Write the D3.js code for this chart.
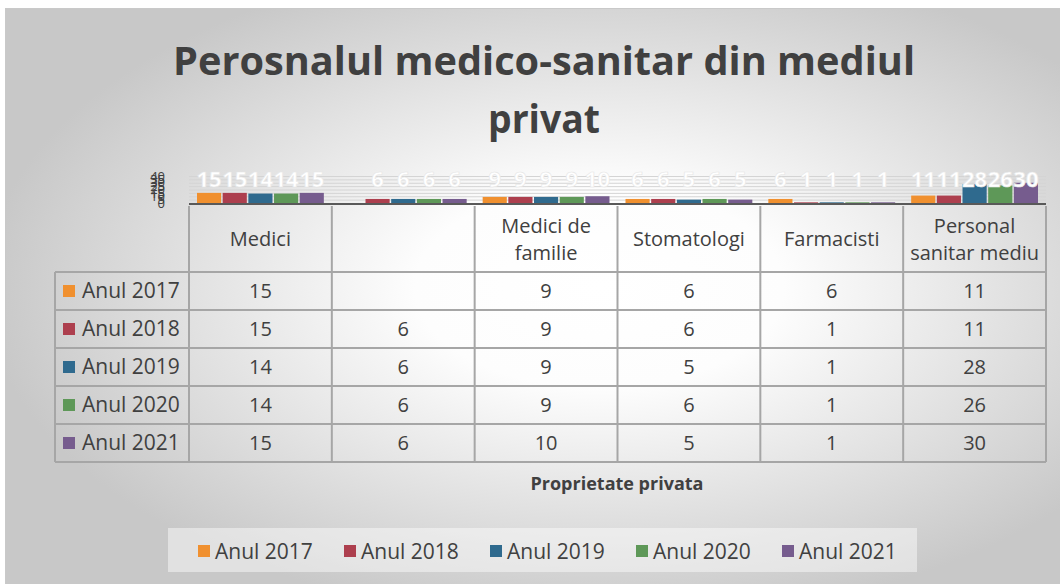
<html>
<head>
<meta charset="utf-8">
<script src="https://cdn.jsdelivr.net/npm/d3@7"></script>
<style>
  body { margin: 0; background: #fff; }
  text { font-family: "Open Sans", sans-serif; }
</style>
</head>
<body>
<svg id="chart" width="1060" height="584"></svg>
<script>
// data
const categories = ["Medici", "", "Medici de\nfamilie", "Stomatologi", "Farmacisti", "Personal\nsanitar mediu"];
const seriesNames = ["Anul 2017", "Anul 2018", "Anul 2019", "Anul 2020", "Anul 2021"];
const anul2017 = [15, null, 9, 6, 6, 11];
const anul2018 = [15, 6, 9, 6, 1, 11];
const anul2019 = [14, 6, 9, 5, 1, 28];
const anul2020 = [14, 6, 9, 6, 1, 26];
const anul2021 = [15, 6, 10, 5, 1, 30];
const seriesColors = ["#f0902f", "#ad3f4e", "#2f6a8e", "#5e9858", "#765c8e"];
const yTicks = [0, 5, 10, 15, 20, 25, 30, 35, 40];

const allSeries = [anul2017, anul2018, anul2019, anul2020, anul2021];

const svg = d3.select("#chart");
const defs = svg.append("defs");
const grad = defs.append("radialGradient").attr("id", "bg")
    .attr("cx", "56%").attr("cy", "48%").attr("r", "58%");
grad.append("stop").attr("offset", "0%").attr("stop-color", "#ffffff");
grad.append("stop").attr("offset", "30%").attr("stop-color", "#fdfdfd");
grad.append("stop").attr("offset", "100%").attr("stop-color", "#c8c8c8");

svg.append("rect").attr("x", 5.5).attr("y", 8.5).attr("width", 1060).attr("height", 580)
    .attr("fill", "url(#bg)").attr("stroke", "#c9c9c9");

// title
const title = svg.append("text").attr("text-anchor", "middle")
    .attr("fill", "#404040").style("font-weight", "bold").style("font-size", "40px");
title.append("tspan").attr("x", 544).attr("y", 75)
    .attr("textLength", 742).attr("lengthAdjust", "spacingAndGlyphs")
    .text("Perosnalul medico-sanitar din mediul");
title.append("tspan").attr("x", 544).attr("y", 133)
    .attr("textLength", 112).attr("lengthAdjust", "spacingAndGlyphs")
    .text("privat");

// scales
const x = d3.scaleBand().domain(d3.range(categories.length)).range([189, 1046]);
const xs = d3.scaleBand().domain(d3.range(seriesNames.length))
    .range([8, x.bandwidth() - 8]).paddingInner(0.06);
const y = d3.scaleLinear().domain([0, 40]).range([203, 176]);

// gridlines
svg.append("g").selectAll("line").data(yTicks).enter().append("line")
    .attr("x1", 189).attr("x2", 1046)
    .attr("y1", d => y(d) + 0.5).attr("y2", d => y(d) + 0.5)
    .attr("stroke", "#d4d4d4").attr("stroke-width", 1);

// y axis labels (squashed)
svg.append("g").attr("transform", "translate(165,0)")
  .call(d3.axisLeft(y).tickValues(yTicks).tickSize(0).tickPadding(0))
  .call(g => g.select(".domain").remove())
  .call(g => g.selectAll("text").attr("fill", "#404040").style("font-size", "13px")
      .style("font-family", "Open Sans"));

// bars
const groups = svg.append("g").selectAll("g").data(allSeries).enter().append("g")
    .attr("fill", (d, i) => seriesColors[i]);
groups.selectAll("rect")
  .data((d, i) => d.map((v, c) => ({v: v, c: c, s: i})).filter(o => o.v != null))
  .enter().append("rect")
    .attr("x", d => x(d.c) + xs(d.s))
    .attr("width", xs.bandwidth())
    .attr("y", d => y(d.v))
    .attr("height", d => y(0) - y(d.v));

// data labels
groups.selectAll("text")
  .data((d, i) => d.map((v, c) => ({v: v, c: c, s: i})).filter(o => o.v != null))
  .enter().append("text")
    .attr("x", d => x(d.c) + xs(d.s) + xs.bandwidth() / 2)
    .attr("y", 187)
    .attr("text-anchor", "middle")
    .attr("fill", "#ffffff")
    .attr("stroke", "#e6e6e6").attr("stroke-width", 0.6)
    .style("font-weight", "bold").style("font-size", "22px")
    .text(d => d.v);

// axis line
svg.append("line").attr("x1", 189).attr("x2", 1046).attr("y1", 204).attr("y2", 204)
    .attr("stroke", "#595959").attr("stroke-width", 2);

// data table
const rowTop = 206, headerH = 66, rowH = 38;
const rowY = i => rowTop + headerH + i * rowH;
const tableBottom = rowY(seriesNames.length);
const lineColor = "#a6a6a6";
const table = svg.append("g");

d3.range(seriesNames.length + 1).forEach(i => {
  table.append("line").attr("x1", 55).attr("x2", 1046).attr("y1", rowY(i)).attr("y2", rowY(i))
      .attr("stroke", lineColor).attr("stroke-width", 2);
});
d3.range(categories.length + 1).forEach(c => {
  const xx = c < categories.length ? x(c) : 1046;
  table.append("line").attr("x1", xx).attr("x2", xx).attr("y1", rowTop).attr("y2", tableBottom)
      .attr("stroke", lineColor).attr("stroke-width", 2);
});
table.append("line").attr("x1", 55).attr("x2", 55).attr("y1", rowY(0)).attr("y2", tableBottom)
    .attr("stroke", lineColor).attr("stroke-width", 2);

// header text
categories.forEach((name, c) => {
  const lines = name.split("\n");
  const cy = rowTop + headerH / 2;
  lines.forEach((ln, k) => {
    table.append("text")
      .attr("x", x(c) + x.bandwidth() / 2)
      .attr("y", cy + 7 + (k - (lines.length - 1) / 2) * 27)
      .attr("text-anchor", "middle").attr("fill", "#404040")
      .style("font-size", "20px").text(ln);
  });
});

// series rows
seriesNames.forEach((s, i) => {
  const cy = rowY(i) + rowH / 2;
  table.append("rect").attr("x", 63).attr("y", cy - 6).attr("width", 12).attr("height", 12)
      .attr("fill", seriesColors[i]);
  table.append("text").attr("x", 82).attr("y", cy + 7).attr("fill", "#404040")
      .style("font-size", "21px").text(s);
  allSeries[i].forEach((v, c) => {
    table.append("text")
      .attr("x", x(c) + x.bandwidth() / 2).attr("y", cy + 7)
      .attr("text-anchor", "middle").attr("fill", "#404040")
      .style("font-size", "20px").text(v == null ? "" : v);
  });
});

// axis title
svg.append("text").attr("x", 617).attr("y", 490).attr("text-anchor", "middle")
    .attr("fill", "#404040").style("font-weight", "bold").style("font-size", "18px")
    .text("Proprietate privata");

// legend
const legend = svg.append("g");
legend.append("rect").attr("x", 168).attr("y", 528).attr("width", 749).attr("height", 44)
    .attr("fill", "#ffffff").attr("fill-opacity", 0.45);
const legendX = d3.scalePoint().domain(seriesNames).range([198, 782]);
seriesNames.forEach((s, i) => {
  legend.append("rect").attr("x", legendX(s)).attr("y", 545).attr("width", 12).attr("height", 12)
      .attr("fill", seriesColors[i]);
  legend.append("text").attr("x", legendX(s) + 17).attr("y", 559).attr("fill", "#404040")
      .style("font-size", "21px").text(s);
});
</script>
</body>
</html>
